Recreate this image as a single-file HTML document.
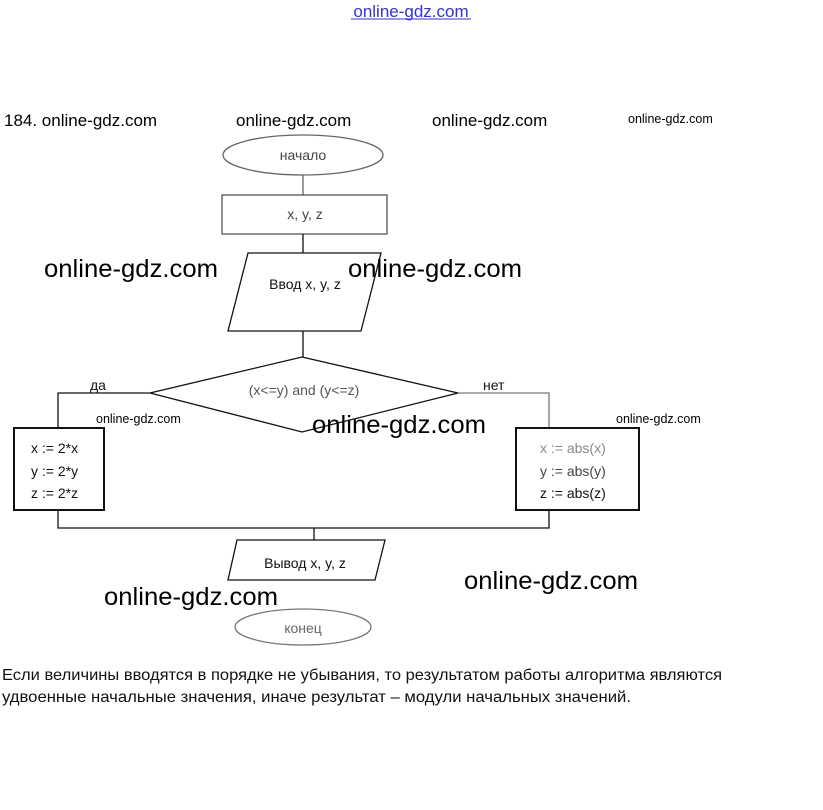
<!DOCTYPE html>
<html><head><meta charset="utf-8"><style>
html,body{margin:0;padding:0;background:#fff;}
svg{display:block;font-family:"Liberation Sans","DejaVu Sans",sans-serif;}
</style></head><body>
<svg width="823" height="810" viewBox="0 0 823 810" xmlns="http://www.w3.org/2000/svg">
<rect width="823" height="810" fill="#fff"/>
<text x="411" y="17" font-size="17" fill="#3333cc" text-anchor="middle">online-gdz.com</text>
<line x1="351" y1="19" x2="471" y2="19" stroke="#3333cc" stroke-width="1"/>
<g font-size="17" fill="#000">
<text x="4" y="126">184. online-gdz.com</text>
<text x="236" y="126">online-gdz.com</text>
<text x="432" y="126">online-gdz.com</text>
</g>
<g font-size="12.5" fill="#000">
<text x="628" y="123">online-gdz.com</text>
<text x="96" y="423">online-gdz.com</text>
<text x="616" y="423">online-gdz.com</text>
</g>
<g fill="none" stroke="#111" stroke-width="1.3">
<ellipse cx="303" cy="155" rx="80" ry="20" stroke="#666"/>
<line x1="303" y1="175" x2="303" y2="195" stroke="#666"/>
<rect x="222" y="195" width="165" height="39" stroke="#555"/>
<line x1="303" y1="234" x2="303" y2="253"/>
<polygon points="248,253 381,253 361,331 228,331"/>
<line x1="303" y1="331" x2="303" y2="357"/>
<polygon points="302,357 458,393 302,432 150,393"/>
<polyline points="150,393 58,393 58,428"/>
<polyline points="458,393 549,393 549,428" stroke="#777"/>
<rect x="14" y="428" width="90" height="82" stroke-width="2"/>
<rect x="516" y="428" width="123" height="82" stroke-width="2"/>
<polyline points="58,510 58,528 549,528 549,510"/>
<line x1="314" y1="528" x2="314" y2="540"/>
<polygon points="237,540 385,540 375,580 228,580"/>
<ellipse cx="303" cy="627" rx="68" ry="18" stroke="#777"/>
</g>
<g font-size="14" fill="#444" text-anchor="middle">
<text x="303" y="160">начало</text>
<text x="305" y="219">x, y, z</text>
<text x="305" y="289" fill="#111">Ввод x, y, z</text>
<text x="304" y="395" fill="#555">(x&lt;=y) and (y&lt;=z)</text>
<text x="305" y="568" fill="#111">Вывод x, y, z</text>
<text x="303" y="633" fill="#666">конец</text>
</g>
<g font-size="14" fill="#111">
<text x="90" y="390">да</text>
<text x="483" y="390">нет</text>
<text x="31" y="453">x := 2*x</text>
<text x="31" y="476">y := 2*y</text>
<text x="31" y="498">z := 2*z</text>
<text x="540" y="453" fill="#888">x := abs(x)</text>
<text x="540" y="476" fill="#444">y := abs(y)</text>
<text x="540" y="498">z := abs(z)</text>
</g>
<g font-size="25" fill="#000">
<text x="44" y="277" textLength="174" lengthAdjust="spacingAndGlyphs">online-gdz.com</text>
<text x="348" y="277" textLength="174" lengthAdjust="spacingAndGlyphs">online-gdz.com</text>
<text x="312" y="433" textLength="174" lengthAdjust="spacingAndGlyphs">online-gdz.com</text>
<text x="464" y="589" textLength="174" lengthAdjust="spacingAndGlyphs">online-gdz.com</text>
<text x="104" y="605" textLength="174" lengthAdjust="spacingAndGlyphs">online-gdz.com</text>
</g>
<g font-size="16" fill="#111">
<text x="2" y="680" textLength="720" lengthAdjust="spacingAndGlyphs">Если величины вводятся в порядке не убывания, то результатом работы алгоритма являются</text>
<text x="2" y="702" textLength="629" lengthAdjust="spacingAndGlyphs">удвоенные начальные значения, иначе результат – модули начальных значений.</text>
</g>
</svg>
</body></html>
